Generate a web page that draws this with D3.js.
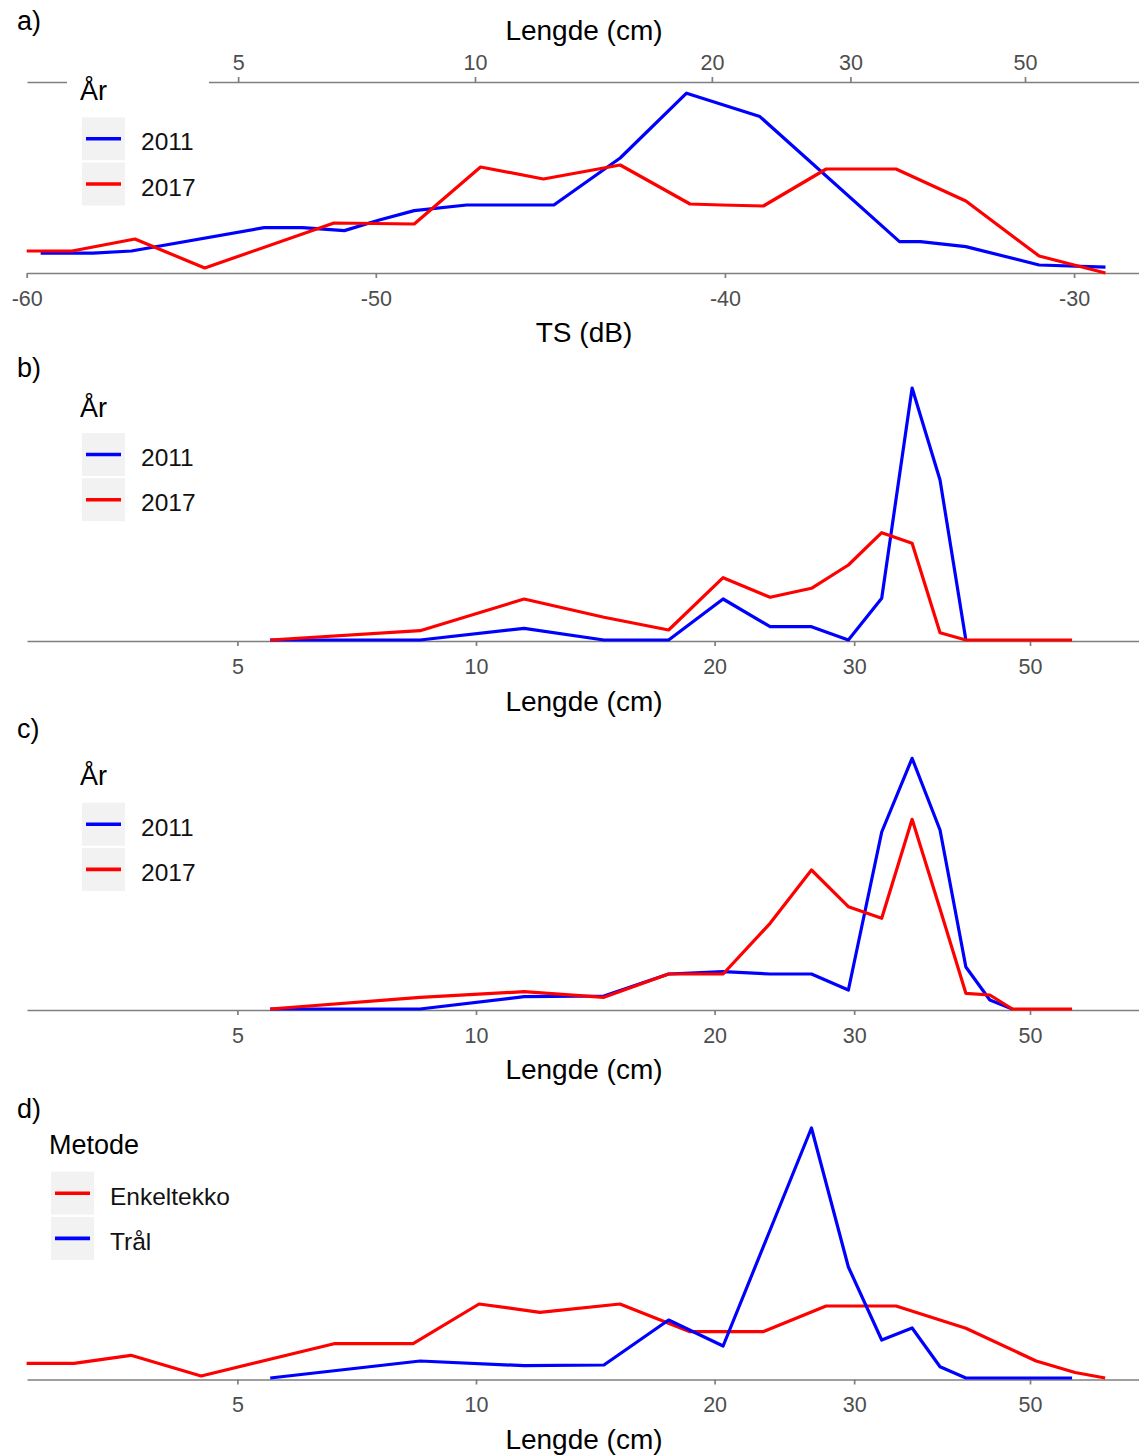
<!DOCTYPE html>
<html>
<head>
<meta charset="utf-8">
<script src="https://cdn.jsdelivr.net/npm/d3@7"></script>
<style>
  body { margin: 0; background: #fff; }
</style>
</head>
<body>
<div id="chart"></div>
<script>
// ---- data ----
var lengthTicks = [5, 10, 20, 30, 50];
var tsTicks = [-60, -50, -40, -30];
var lengthClasses = [5.5, 8.5, 11.5, 14.5, 17.5, 20.5, 23.5, 26.5, 29.5, 32.5, 35.5, 38.5, 41.5, 44.5, 47.5, 50.5, 53.5, 56.5];

// a) TS distribution (dB) per year
var tsA2011 = [-59.6, -58.1, -57.0, -53.2, -52.1, -50.9, -49.9, -48.9, -47.4, -44.9, -43.0, -41.1, -39.0, -35.0, -34.4, -33.1, -31.0, -29.1];
var valA2011 = [0.99, 0.99, 1.10, 2.27, 2.27, 2.12, 2.65, 3.12, 3.40, 3.40, 5.75, 8.99, 7.82, 1.57, 1.57, 1.32, 0.40, 0.29];
var tsA2017 = [-60.0, -58.7, -56.9, -54.9, -51.2, -48.9, -47.0, -45.2, -43.0, -41.0, -40.1, -38.9, -37.1, -35.1, -33.1, -31.0, -30.0, -29.1];
var valA2017 = [1.10, 1.10, 1.70, 0.25, 2.50, 2.45, 5.30, 4.70, 5.40, 3.45, 3.40, 3.35, 5.20, 5.20, 3.60, 0.85, 0.40, 0.0];

// b) length distribution per year
var valB2011 = [0, 0, 1.17, 0, 0, 4.1, 1.33, 1.33, 0, 4.17, 25.2, 16.0, 0];
var valB2017 = [0, 0.93, 4.1, 2.27, 1.0, 6.23, 4.27, 5.17, 7.5, 10.73, 9.67, 0.73, 0, 0, 0, 0, 0, 0];

// c) length distribution per year
var valC2011 = [0, 0, 1.23, 1.3, 3.5, 3.73, 3.5, 3.5, 1.9, 17.7, 25.07, 17.9, 4.2, 0.9, 0];
var valC2017 = [0, 1.17, 1.73, 1.17, 3.5, 3.5, 8.57, 13.9, 10.23, 9.07, 18.97, 10.0, 1.57, 1.4, 0, 0, 0, 0];

// d) method comparison
var lenEnkeltekko = [2.71, 3.11, 3.67, 4.50, 6.62, 8.33, 10.09, 12.04, 15.19, 18.62, 23.02, 27.65, 33.88, 41.5, 50.9, 57.0, 62.2];
var valEnkeltekko = [1.47, 1.47, 2.27, 0.2, 3.43, 3.43, 7.4, 6.57, 7.4, 4.63, 4.63, 7.2, 7.2, 4.97, 1.7, 0.55, 0];
var valTral = [0, 1.7, 1.23, 1.3, 5.8, 3.2, 14.8, 25.0, 11.1, 3.8, 5.0, 1.13, 0, 0, 0, 0, 0, 0];

// ---- layout ----
var svgWidth = 1139, svgHeight = 1456;
var left = 27, right = 1139;
var font = "'Liberation Sans', Arial, sans-serif";
var axisColor = "#7f7f7f";
var blue = "#0000ff", red = "#ff0000";

var svg = d3.select("#chart").append("svg")
  .attr("width", svgWidth)
  .attr("height", svgHeight)
  .style("background", "#fff");

// log length scale anchored on where 10 and 50 cm sit
function logScaleFrom(x10, x50) {
  var perDecade = (x50 - x10) / Math.log10(5);
  var lo = 10 * Math.pow(10, (left - x10) / perDecade);
  var hi = 10 * Math.pow(10, (right - x10) / perDecade);
  return d3.scaleLog().domain([lo, hi]).range([left, right]);
}
var xLength = logScaleFrom(476, 1030);
var xLengthTop = logScaleFrom(475, 1025);
var xTs = d3.scaleLinear().domain([-60, -28.14]).range([26.7, right]);

// plain hyphen minus like the original
var plainFormat = d => String(d);

function styleAxis(g) {
  g.attr("font-family", font).attr("font-size", 21.5);
  g.select(".domain").attr("stroke", axisColor).attr("stroke-width", 1.7);
  g.selectAll(".tick line").attr("stroke", axisColor).attr("stroke-width", 1.7);
  g.selectAll(".tick text").attr("fill", "#4d4d4d");
}

function bottomAxis(scale, ticks, y) {
  var axis = d3.axisBottom(scale).tickValues(ticks).tickSize(5).tickSizeOuter(0)
    .tickPadding(12.4).tickFormat(plainFormat);
  var g = svg.append("g").attr("transform", `translate(0, ${y})`).call(axis);
  styleAxis(g);
  return g;
}

function title(text, x, y) {
  svg.append("text")
    .attr("x", x).attr("y", y)
    .attr("text-anchor", "middle")
    .attr("font-family", font)
    .attr("font-size", 28)
    .attr("fill", "#000")
    .text(text);
}

function panelLabel(text, y) {
  svg.append("text")
    .attr("x", 17).attr("y", y)
    .attr("font-family", font)
    .attr("font-size", 27)
    .attr("fill", "#000")
    .text(text);
}

function drawLine(xs, ys, xScale, yScale, color) {
  var pts = ys.map((v, i) => [xs[i], v]);
  var line = d3.line().x(d => xScale(d[0])).y(d => yScale(d[1]));
  svg.append("path")
    .datum(pts)
    .attr("d", line)
    .attr("fill", "none")
    .attr("stroke", color)
    .attr("stroke-width", 3.2)
    .attr("stroke-linejoin", "round")
    .attr("stroke-linecap", "butt");
}

function legend(x, titleY, titleText, boxTop, labelX, items) {
  svg.append("text")
    .attr("x", x - 2).attr("y", titleY)
    .attr("font-family", font).attr("font-size", 27).attr("fill", "#000")
    .text(titleText);
  items.forEach(function(item, i) {
    var top = boxTop + i * 45.2;
    svg.append("rect")
      .attr("x", x).attr("y", top)
      .attr("width", 43).attr("height", 43)
      .attr("fill", "#f2f2f2");
    svg.append("line")
      .attr("x1", x + 4).attr("x2", x + 39)
      .attr("y1", top + 21.5).attr("y2", top + 21.5)
      .attr("stroke", item.color).attr("stroke-width", 3.6);
    svg.append("text")
      .attr("x", labelX).attr("y", top + 21.5 + 11.5)
      .attr("font-family", font).attr("font-size", 24.5).attr("fill", "#111")
      .text(item.label);
  });
}

var yearItems = [{label: "2011", color: blue}, {label: "2017", color: red}];

// ---- a) ----
var yA = d3.scaleLinear().domain([0, 9.55]).range([273, 82]);
var topAxis = d3.axisTop(xLengthTop).tickValues(lengthTicks).tickSize(5).tickSizeOuter(0)
  .tickPadding(7.5).tickFormat(plainFormat);
styleAxis(svg.append("g").attr("transform", "translate(0, 82)").call(topAxis));
bottomAxis(xTs, tsTicks, 273);
drawLine(tsA2011, valA2011, xTs, yA, blue);
drawLine(tsA2017, valA2017, xTs, yA, red);
// legend background hides part of the top axis line
svg.append("rect").attr("x", 67).attr("y", 70).attr("width", 142).attr("height", 142).attr("fill", "#fff");
legend(82, 100, "År", 117.3, 141, yearItems);
title("Lengde (cm)", 584, 39.5);
title("TS (dB)", 584, 342);
panelLabel("a)", 30);

// ---- b) ----
var yB = d3.scaleLinear().domain([0, 25]).range([640, 390]);
bottomAxis(xLength, lengthTicks, 641);
drawLine(lengthClasses, valB2011, xLength, yB, blue);
drawLine(lengthClasses, valB2017, xLength, yB, red);
legend(82, 417, "År", 433, 141, yearItems);
title("Lengde (cm)", 584, 711);
panelLabel("b)", 377);

// ---- c) ----
var yC = d3.scaleLinear().domain([0, 25]).range([1009, 759]);
bottomAxis(xLength, lengthTicks, 1010);
drawLine(lengthClasses, valC2011, xLength, yC, blue);
drawLine(lengthClasses, valC2017, xLength, yC, red);
legend(82, 785, "År", 802.7, 141, yearItems);
title("Lengde (cm)", 584, 1079);
panelLabel("c)", 738);

// ---- d) ----
var yD = d3.scaleLinear().domain([0, 25]).range([1378, 1128]);
bottomAxis(xLength, lengthTicks, 1379.5);
drawLine(lenEnkeltekko, valEnkeltekko, xLength, yD, red);
drawLine(lengthClasses, valTral, xLength, yD, blue);
legend(51, 1154, "Metode", 1171.7, 110, [{label: "Enkeltekko", color: red}, {label: "Trål", color: blue}]);
title("Lengde (cm)", 584, 1449);
panelLabel("d)", 1118);
</script>
</body>
</html>
